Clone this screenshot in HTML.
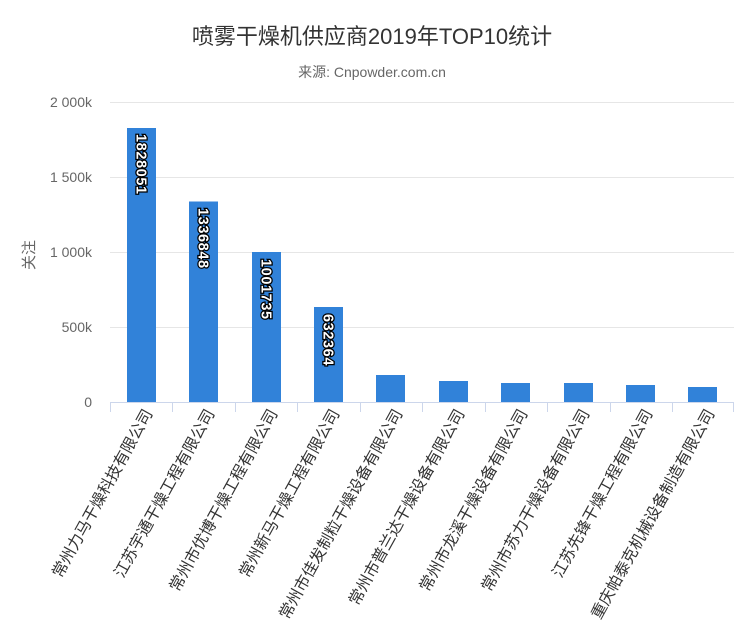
<!DOCTYPE html>
<html><head><meta charset="utf-8"><style>
body{margin:0;background:#fff;}
svg text{font-family:"Liberation Sans","Noto Sans CJK SC",sans-serif;}
</style></head><body>
<svg width="744" height="624" viewBox="0 0 744 624" xmlns="http://www.w3.org/2000/svg">
<text x="372" y="44" text-anchor="middle" font-size="22" fill="#333">喷雾干燥机供应商2019年TOP10统计</text>
<text x="372" y="77" text-anchor="middle" font-size="14" fill="#666">来源: Cnpowder.com.cn</text>
<g stroke="#e6e6e6" stroke-width="1">
<line x1="110" y1="102.5" x2="734" y2="102.5"/>
<line x1="110" y1="177.5" x2="734" y2="177.5"/>
<line x1="110" y1="252.5" x2="734" y2="252.5"/>
<line x1="110" y1="327.5" x2="734" y2="327.5"/>
</g>
<g font-size="14" fill="#666" text-anchor="end">
<text x="92" y="107">2 000k</text>
<text x="92" y="182">1 500k</text>
<text x="92" y="257">1 000k</text>
<text x="92" y="332">500k</text>
<text x="92" y="407">0</text>
</g>
<text transform="translate(34,255) rotate(-90)" text-anchor="middle" font-size="15" fill="#666">关注</text>
<g fill="#3182d9">
<rect x="127" y="128" width="29" height="274"/>
<rect x="189" y="201.5" width="29" height="200.5"/>
<rect x="252" y="252" width="29" height="150"/>
<rect x="314" y="307" width="29" height="95"/>
<rect x="376" y="375" width="29" height="27"/>
<rect x="439" y="381" width="29" height="21"/>
<rect x="501" y="383" width="29" height="19"/>
<rect x="564" y="383" width="29" height="19"/>
<rect x="626" y="385" width="29" height="17"/>
<rect x="688" y="387" width="29" height="15"/>
</g>
<line x1="110" y1="402.5" x2="734" y2="402.5" stroke="#ccd6eb"/>
<g stroke="#ccd6eb">
<line x1="110.5" y1="402" x2="110.5" y2="412"/><line x1="172.5" y1="402" x2="172.5" y2="412"/>
<line x1="235.5" y1="402" x2="235.5" y2="412"/><line x1="297.5" y1="402" x2="297.5" y2="412"/>
<line x1="360.5" y1="402" x2="360.5" y2="412"/><line x1="422.5" y1="402" x2="422.5" y2="412"/>
<line x1="485.5" y1="402" x2="485.5" y2="412"/><line x1="547.5" y1="402" x2="547.5" y2="412"/>
<line x1="610.5" y1="402" x2="610.5" y2="412"/><line x1="672.5" y1="402" x2="672.5" y2="412"/>
<line x1="733.5" y1="402" x2="733.5" y2="412"/>
</g>
<g font-size="14.5" font-weight="bold" fill="#fff" stroke="#000" stroke-width="2.5" paint-order="stroke" text-anchor="start" letter-spacing="0.6">
<text transform="translate(136.5,134) rotate(90)">1828051</text>
<text transform="translate(198.5,208) rotate(90)">1336848</text>
<text transform="translate(261.5,259) rotate(90)">1001735</text>
<text transform="translate(323.5,314) rotate(90)">632364</text>
</g>
<g font-size="15.8" fill="#333" text-anchor="end">
<text transform="translate(153,413) rotate(-61)">常州力马干燥科技有限公司</text>
<text transform="translate(215,413) rotate(-61)">江苏宇通干燥工程有限公司</text>
<text transform="translate(278,413) rotate(-61)">常州市优博干燥工程有限公司</text>
<text transform="translate(340,413) rotate(-61)">常州新马干燥工程有限公司</text>
<text transform="translate(403,413) rotate(-61)">常州市佳发制粒干燥设备有限公司</text>
<text transform="translate(465,413) rotate(-61)">常州市普兰达干燥设备有限公司</text>
<text transform="translate(528,413) rotate(-61)">常州市龙溪干燥设备有限公司</text>
<text transform="translate(590,413) rotate(-61)">常州市苏力干燥设备有限公司</text>
<text transform="translate(653,413) rotate(-61)">江苏先锋干燥工程有限公司</text>
<text transform="translate(715,413) rotate(-61)">重庆帕泰克机械设备制造有限公司</text>
</g>
</svg>
</body></html>
